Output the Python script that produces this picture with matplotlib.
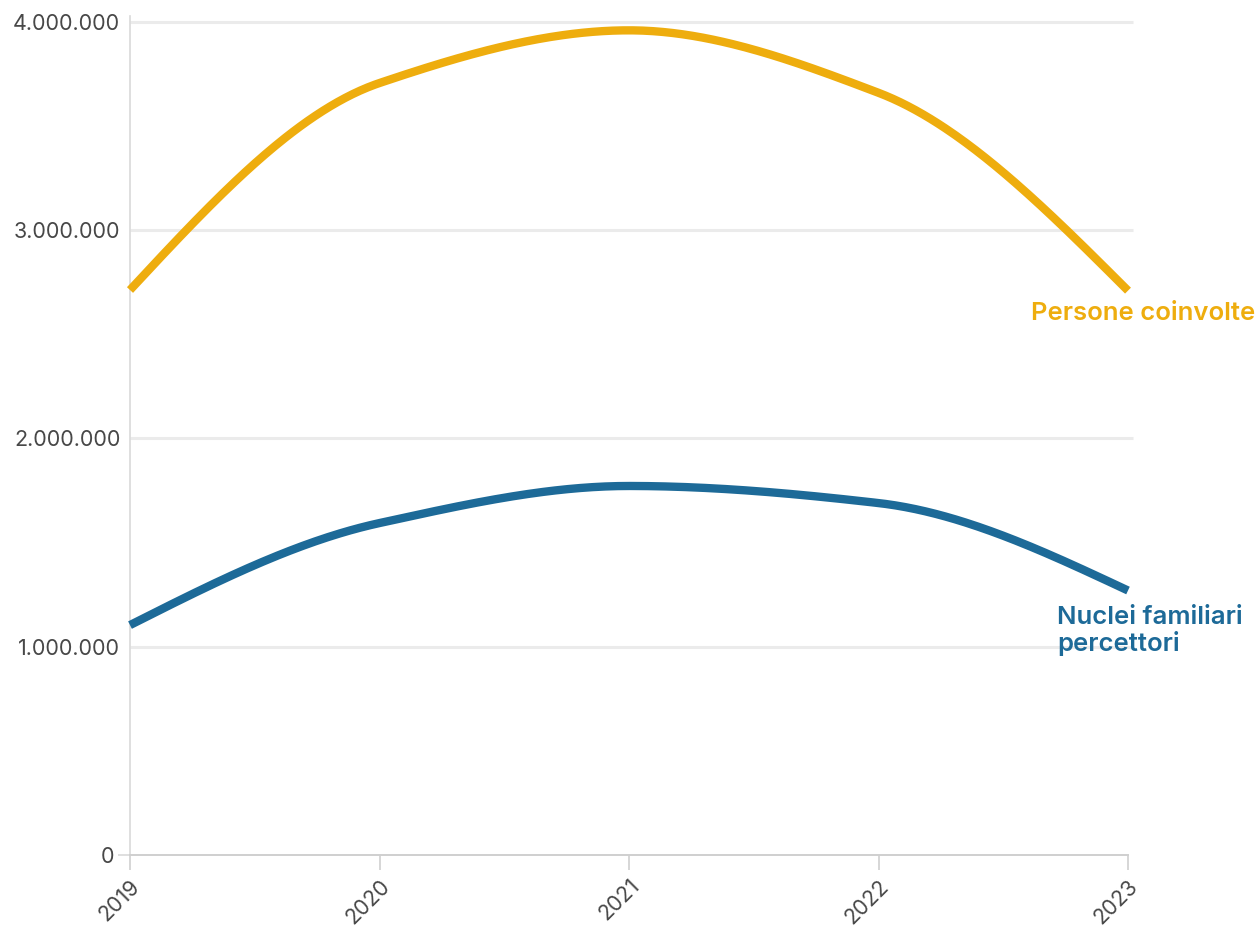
import numpy as np
import matplotlib
matplotlib.use("Agg")
import matplotlib.pyplot as plt

# Data
years = [2019, 2020, 2021, 2022, 2023]
persone_coinvolte = [2713000, 3707000, 3960000, 3660000, 2710000]
nuclei_percettori = [1104000, 1594000, 1772000, 1690000, 1270000]
y_ticks = [1000000, 2000000, 3000000, 4000000]
y_tick_labels = ["1.000.000", "2.000.000", "3.000.000", "4.000.000"]

ORANGE = "#EEAD0E"
BLUE = "#1D6A98"
TEXT = "#484848"

plt.rcParams["font.family"] = ["Inter", "DejaVu Sans"]


def monotone_curve(x, y, n=400):
    """Monotone cubic (Fritsch-Carlson) curve through the given points."""
    x = np.asarray(x, float)
    y = np.asarray(y, float)
    h = np.diff(x)
    d = np.diff(y) / h
    m = np.zeros_like(y)
    for i in range(1, len(x) - 1):
        if d[i - 1] * d[i] <= 0:
            m[i] = 0.0
        else:
            w1 = 2 * h[i] + h[i - 1]
            w2 = h[i] + 2 * h[i - 1]
            m[i] = (w1 + w2) / (w1 / d[i - 1] + w2 / d[i])
    m[0] = (3 * d[0] - m[1]) / 2
    m[-1] = (3 * d[-1] - m[-2]) / 2
    xs = np.linspace(x[0], x[-1], n)
    idx = np.clip(np.searchsorted(x, xs) - 1, 0, len(x) - 2)
    t = (xs - x[idx]) / h[idx]
    h00 = 2 * t**3 - 3 * t**2 + 1
    h10 = t**3 - 2 * t**2 + t
    h01 = -2 * t**3 + 3 * t**2
    h11 = t**3 - t**2
    ys = (h00 * y[idx] + h10 * h[idx] * m[idx]
          + h01 * y[idx + 1] + h11 * h[idx] * m[idx + 1])
    return xs, ys


W, H = 1260, 932
fig = plt.figure(figsize=(W / 100, H / 100), dpi=100)
left, right, top, bottom = 130, 1128, 22, 855
ax = fig.add_axes([left / W, (H - bottom) / H, (right - left) / W, (bottom - top) / H])
ax.set_xlim(years[0], years[-1])
ax.set_ylim(0, 4000000)

# Horizontal gridlines
for v in y_ticks:
    ax.plot([years[0], years[-1] + 0.02], [v, v], color="#ebebeb", lw=2.2,
            zorder=1, clip_on=False, solid_capstyle="butt")

# Lines
for series, color in [(persone_coinvolte, ORANGE), (nuclei_percettori, BLUE)]:
    xs, ys = monotone_curve(years, series)
    ax.plot(xs, ys, color=color, lw=6.0, zorder=3, solid_capstyle="butt",
            clip_on=False)

# Spines
for s in ["top", "right"]:
    ax.spines[s].set_visible(False)
ax.spines["left"].set_color("#d9d9d9")
ax.spines["left"].set_linewidth(1.2)
ax.spines["left"].set_bounds(0, 4030000)
ax.spines["bottom"].set_color("#cfcfcf")
ax.spines["bottom"].set_linewidth(1.4)

# y axis: major labels without tick marks, the zero label with a short tick
ax.set_yticks(y_ticks)
ax.set_yticklabels(y_tick_labels)
ax.set_yticks([0], minor=True)
ax.set_yticklabels(["0"], minor=True)
ax.tick_params(axis="y", which="major", length=0, pad=7, labelsize=15.5,
               labelcolor=TEXT)
ax.tick_params(axis="y", which="minor", length=9, width=1.2, color="#d9d9d9",
               pad=2, labelsize=15.5, labelcolor=TEXT)

ax.set_xticks(years)
ax.set_xticklabels([str(y) for y in years], rotation=45, ha="right",
                   rotation_mode="anchor")
ax.tick_params(axis="x", length=11, width=1.2, color="#cfcfcf", pad=4,
               labelsize=15.5, labelcolor=TEXT)

# Series labels
ax.text(1255 / W, (H - 313) / H, "Persone coinvolte", transform=fig.transFigure,
        ha="right", va="center", color=ORANGE, fontsize=18.5, fontweight="semibold")
ax.text(1057 / W, (H - 631) / H, "Nuclei familiari\npercettori",
        transform=fig.transFigure, ha="left", va="center", color=BLUE,
        fontsize=18.5, fontweight="semibold", linespacing=1.05)

fig.savefig("out.png", dpi=100)
